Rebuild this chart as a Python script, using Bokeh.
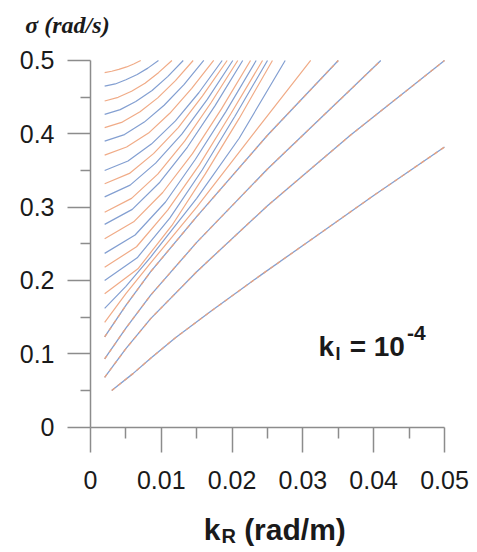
from bokeh.plotting import figure
from bokeh.models import Range1d, FixedTicker, Label, LinearAxis
from bokeh.embed import file_html
from bokeh.resources import INLINE

# ---------------- data ----------------
x_ticks = [0, 0.01, 0.02, 0.03, 0.04, 0.05]
x_tick_labels = ["0", "0.01", "0.02", "0.03", "0.04", "0.05"]
x_minor_ticks = [0.005, 0.015, 0.025, 0.035, 0.045]
y_ticks = [0, 0.1, 0.2, 0.3, 0.4, 0.5]
y_tick_labels = ["0", "0.1", "0.2", "0.3", "0.4", "0.5"]
y_minor_ticks = [0.05, 0.15, 0.25, 0.35, 0.45]

# k_R (rad/m) and sigma (rad/s) along each dispersion curve, bottom to top
c01_k = [0.003, 0.006, 0.0085, 0.012, 0.017, 0.024, 0.0315, 0.040, 0.050]
c01_s = [0.050, 0.073, 0.094, 0.122, 0.158, 0.207, 0.258, 0.316, 0.382]
c02_k = [0.002, 0.005, 0.0085, 0.015, 0.025, 0.0367, 0.050]
c02_s = [0.068, 0.107, 0.148, 0.212, 0.302, 0.398, 0.500]
c03_k = [0.002, 0.005, 0.0085, 0.015, 0.025, 0.0367, 0.041]
c03_s = [0.093, 0.135, 0.180, 0.252, 0.352, 0.460, 0.500]
c04_k = [0.002, 0.005, 0.0085, 0.015, 0.025, 0.035]
c04_s = [0.123, 0.166, 0.212, 0.287, 0.398, 0.500]
c05_k = [0.002, 0.005, 0.0085, 0.015, 0.023, 0.0311]
c05_s = [0.143, 0.182, 0.224, 0.300, 0.400, 0.500]
c06_k = [0.002, 0.005, 0.0085, 0.015, 0.021, 0.0275]
c06_s = [0.162, 0.192, 0.232, 0.312, 0.394, 0.500]
c07_k = [0.002, 0.0067, 0.0115, 0.0162, 0.0210, 0.0257]
c07_s = [0.182, 0.216, 0.275, 0.345, 0.421, 0.500]
c08_k = [0.002, 0.0066, 0.0112, 0.0158, 0.0204, 0.0250]
c08_s = [0.200, 0.231, 0.285, 0.351, 0.424, 0.500]
c09_k = [0.002, 0.0065, 0.0109, 0.0154, 0.0198, 0.0243]
c09_s = [0.218, 0.246, 0.296, 0.358, 0.427, 0.500]
c10_k = [0.002, 0.0063, 0.0106, 0.0148, 0.0191, 0.0234]
c10_s = [0.237, 0.262, 0.307, 0.365, 0.430, 0.500]
c11_k = [0.002, 0.0061, 0.0102, 0.0144, 0.0185, 0.0226]
c11_s = [0.257, 0.280, 0.320, 0.373, 0.434, 0.500]
c12_k = [0.002, 0.0059, 0.0098, 0.0137, 0.0176, 0.0215]
c12_s = [0.2765, 0.297, 0.334, 0.382, 0.4385, 0.500]
c13_k = [0.002, 0.0058, 0.0095, 0.0133, 0.0170, 0.0208]
c13_s = [0.293, 0.312, 0.345, 0.390, 0.442, 0.500]
c14_k = [0.002, 0.0056, 0.0092, 0.0129, 0.0165, 0.0201]
c14_s = [0.314, 0.330, 0.360, 0.3995, 0.447, 0.500]
c15_k = [0.002, 0.0055, 0.0089, 0.0124, 0.0158, 0.0193]
c15_s = [0.332, 0.346, 0.373, 0.4085, 0.4515, 0.500]
c16_k = [0.002, 0.0053, 0.0086, 0.0120, 0.0153, 0.0186]
c16_s = [0.350, 0.363, 0.386, 0.4176, 0.456, 0.500]
c17_k = [0.002, 0.0051, 0.0082, 0.0112, 0.0143, 0.0174]
c17_s = [0.371, 0.382, 0.401, 0.428, 0.462, 0.500]
c18_k = [0.002, 0.0048, 0.0076, 0.0104, 0.0132, 0.0160]
c18_s = [0.390, 0.399, 0.416, 0.439, 0.467, 0.500]
c19_k = [0.002, 0.0045, 0.0070, 0.0095, 0.0120, 0.0145]
c19_s = [0.4085, 0.416, 0.430, 0.449, 0.4725, 0.500]
c20_k = [0.002, 0.0042, 0.0064, 0.0087, 0.0109, 0.0131]
c20_s = [0.4266, 0.433, 0.444, 0.459, 0.478, 0.500]
c21_k = [0.002, 0.0039, 0.0058, 0.0077, 0.0096, 0.0115]
c21_s = [0.4447, 0.4498, 0.458, 0.469, 0.4834, 0.500]
c22_k = [0.002, 0.0035, 0.0050, 0.0066, 0.0081, 0.0096]
c22_s = [0.465, 0.468, 0.4737, 0.481, 0.4896, 0.500]
c23_k = [0.002, 0.0030, 0.0040, 0.0051, 0.0061, 0.0071]
c23_s = [0.4835, 0.4853, 0.4879, 0.4912, 0.4953, 0.500]

curves_k = [c01_k, c02_k, c03_k, c04_k, c05_k, c06_k, c07_k, c08_k, c09_k, c10_k,
            c11_k, c12_k, c13_k, c14_k, c15_k, c16_k, c17_k, c18_k, c19_k, c20_k,
            c21_k, c22_k, c23_k]
curves_s = [c01_s, c02_s, c03_s, c04_s, c05_s, c06_s, c07_s, c08_s, c09_s, c10_s,
            c11_s, c12_s, c13_s, c14_s, c15_s, c16_s, c17_s, c18_s, c19_s, c20_s,
            c21_s, c22_s, c23_s]

# ---------------- styles ----------------
BLUE = "#7595cc"
ORANGE = "#eea27a"
AXIS = "#8c8c8c"
TXT = "#1a1a1a"

# the frame fills the whole canvas; axes are pinned at k=0 and sigma=0
p = figure(width=477, height=552, output_backend="svg", toolbar_location=None,
           x_range=Range1d(-0.01271, 0.05466), y_range=Range1d(-0.1709, 0.5818),
           x_axis_type=None, y_axis_type=None, min_border=0)
p.outline_line_color = None
p.grid.visible = False
p.background_fill_color = "white"
p.border_fill_color = "white"

for i, (kk, ss) in enumerate(zip(curves_k, curves_s)):
    n = i + 1
    if n <= 4:
        p.line(kk, ss, line_color=BLUE, line_width=1.3, line_alpha=0.9)
        p.line(kk, ss, line_color=ORANGE, line_width=1.3, line_alpha=0.95, line_dash="4 4")
    else:
        col = ORANGE if n % 2 == 1 else BLUE
        p.line(kk, ss, line_color=col, line_width=1.2, line_alpha=0.9)

xaxis = LinearAxis(fixed_location=0, bounds=(0, 0.05),
                   ticker=FixedTicker(ticks=x_ticks, minor_ticks=x_minor_ticks),
                   major_label_overrides=dict(zip(x_ticks, x_tick_labels)),
                   major_tick_out=25, minor_tick_out=11, major_label_standoff=19)
yaxis = LinearAxis(fixed_location=0, bounds=(0, 0.5),
                   ticker=FixedTicker(ticks=y_ticks, minor_ticks=y_minor_ticks),
                   major_label_overrides=dict(zip(y_ticks, y_tick_labels)),
                   major_tick_out=23, minor_tick_out=10, major_label_standoff=13)
for ax in (xaxis, yaxis):
    ax.axis_line_color = AXIS
    ax.axis_line_width = 1.5
    ax.major_tick_line_color = AXIS
    ax.major_tick_line_width = 1.5
    ax.minor_tick_line_color = AXIS
    ax.minor_tick_line_width = 1.5
    ax.major_tick_in = 0
    ax.minor_tick_in = 0
    ax.major_label_text_font = "Liberation Sans"
    ax.major_label_text_font_size = "25px"
    ax.major_label_text_color = TXT
p.add_layout(xaxis, "below")
p.add_layout(yaxis, "left")


def lab(text, x, y, size, style="bold", font="Liberation Sans"):
    p.add_layout(Label(x=x, y=y, text=text, text_font=font, text_font_size=size,
                       text_font_style=style, text_color=TXT,
                       text_baseline="alphabetic", text_align="left"))


# y-axis title
lab("σ (rad/s)", -0.0092, 0.548, "24px", "bold italic", "Liberation Serif")
# x-axis title k_R (rad/m)
lab("k", 0.0160, -0.139, "30px")
lab("R", 0.0185, -0.148, "20px")
lab("(rad/m)", 0.0217, -0.139, "30px")
# annotation k_I = 10^-4
lab("k", 0.0322, 0.110, "28px")
lab("I", 0.0346, 0.100, "18px")
lab("= 10", 0.0366, 0.110, "28px")
lab("-4", 0.0447, 0.128, "21px")

open("out.html", "w").write(file_html(p, INLINE))
